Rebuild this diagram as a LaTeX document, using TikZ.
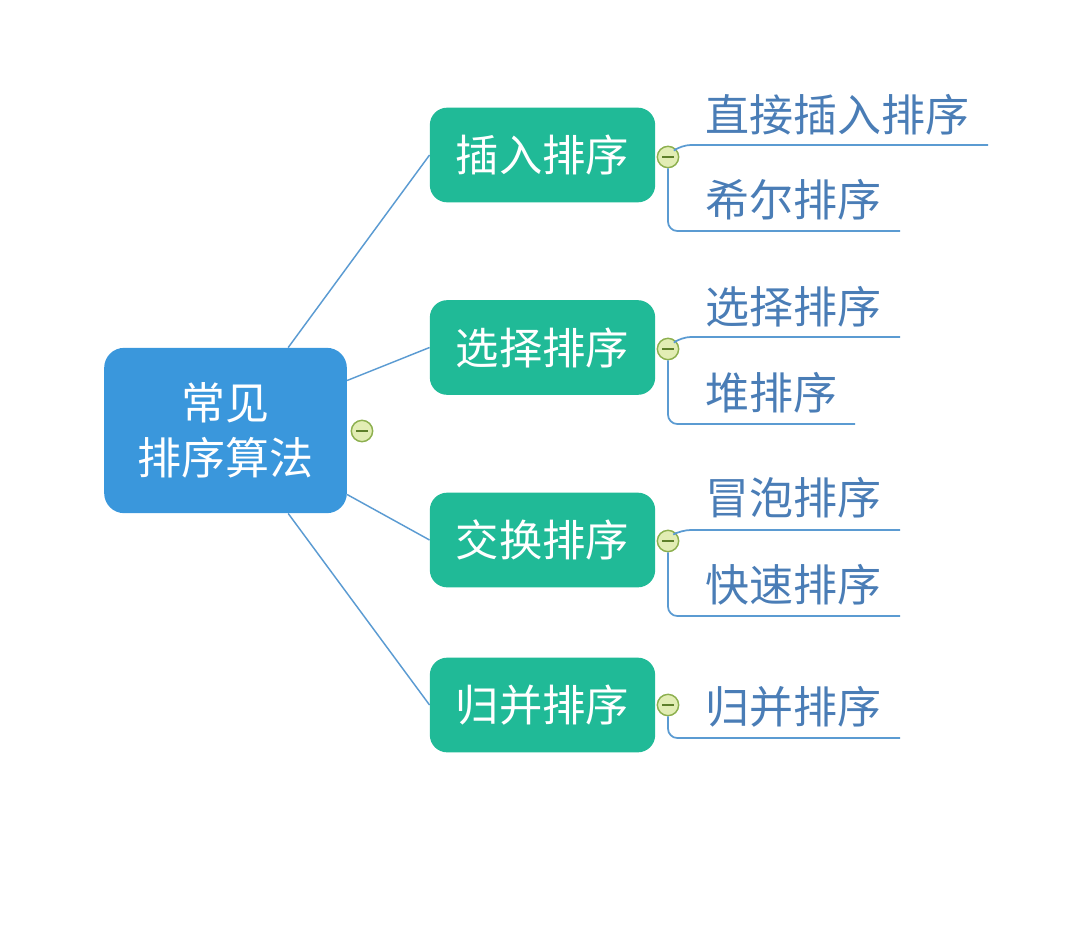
\documentclass[tikz,border=0pt]{standalone}
\usepackage{fontspec}
\newfontfamily\cjk{Noto Sans CJK SC}
\definecolor{rootblue}{HTML}{3A97DC}
\definecolor{boxgreen}{HTML}{20BA97}
\definecolor{leaftext}{HTML}{4A7DB6}
\definecolor{linkblue}{HTML}{5B9BD2}
\definecolor{knobfill}{HTML}{E2EDB4}
\definecolor{knobdraw}{HTML}{8DB04F}
\definecolor{knobbar}{HTML}{5E7F2A}
\tikzset{
  rootbox/.style={fill=rootblue,rounded corners=15pt,minimum width=182pt,minimum height=124pt,
    text=white,align=center,font=\cjk\fontsize{33}{41}\selectfont,inner sep=0pt},
  catbox/.style={fill=boxgreen,rounded corners=13pt,minimum width=169pt,minimum height=71pt,
    text=white,font=\cjk\fontsize{32.5}{38}\selectfont,inner sep=0pt},
  leaf/.style={anchor=west,text=leaftext,font=\cjk\fontsize{33}{38}\selectfont,inner sep=0pt},
  knob/.style={circle,fill=knobfill,draw=knobdraw,line width=1.1pt,minimum size=16pt,inner sep=0pt,
    path picture={\draw[knobbar,line width=1.4pt] ([xshift=-4.5pt]path picture bounding box.center) -- ([xshift=4.5pt]path picture bounding box.center);}},
  link/.style={draw=linkblue,line width=1.1pt},
  branch/.style={draw=linkblue,line width=1.3pt,rounded corners=7pt}
}
\begin{document}
\begin{tikzpicture}[x=0.75pt,y=-0.75pt]
\useasboundingbox (0,0) rectangle (1084,932);
% main nodes
\node[rootbox] (root) at (225.5,430.5) {常见\\排序算法};
\node[catbox] (n1) at (542.5,155) {插入排序};
\node[catbox] (n2) at (542.5,347.5) {选择排序};
\node[catbox] (n3) at (542.5,540) {交换排序};
\node[catbox] (n4) at (542.5,705) {归并排序};
% root links
\draw[link] ([xshift=47pt]root.north) -- (n1.west);
\draw[link] ([yshift=37.5pt]root.east) -- (n2.west);
\draw[link] ([yshift=-48pt]root.east) -- (n3.west);
\draw[link] ([xshift=47pt]root.south) -- (n4.west);
% knobs
\node[knob] (k0) at (362,431) {};
\node[knob] (k1) at (668,157) {};
\node[knob] (k2) at (668,349) {};
\node[knob] (k3) at (668,541) {};
\node[knob] (k4) at (668,705) {};
% leaves
\node[leaf] (l1a) at (705,115) {直接插入排序};
\node[leaf] (l1b) at (705,200) {希尔排序};
\node[leaf] (l2a) at (705,307) {选择排序};
\node[leaf] (l2b) at (705,393) {堆排序};
\node[leaf] (l3a) at (705,498) {冒泡排序};
\node[leaf] (l3b) at (705,585) {快速排序};
\node[leaf] (l4a) at (705,707) {归并排序};
% leaf underline ends
\coordinate (e1a) at (988,145);
\coordinate (e1b) at (900,231);
\coordinate (e2a) at (900,337);
\coordinate (e2b) at (855,424);
\coordinate (e3a) at (900,530);
\coordinate (e3b) at (900,616);
\coordinate (e4a) at (900,738);
% branches
\draw[branch] (k1.north east) -- ([xshift=4pt]k1.north east |- e1a) -- (e1a);
\draw[branch] (k1.south) |- (e1b);
\draw[branch] (k2.north east) -- ([xshift=4pt]k2.north east |- e2a) -- (e2a);
\draw[branch] (k2.south) |- (e2b);
\draw[branch] (k3.north east) -- ([xshift=4pt]k3.north east |- e3a) -- (e3a);
\draw[branch] (k3.south) |- (e3b);
\draw[branch] (k4.south) |- (e4a);
\end{tikzpicture}
\end{document}
